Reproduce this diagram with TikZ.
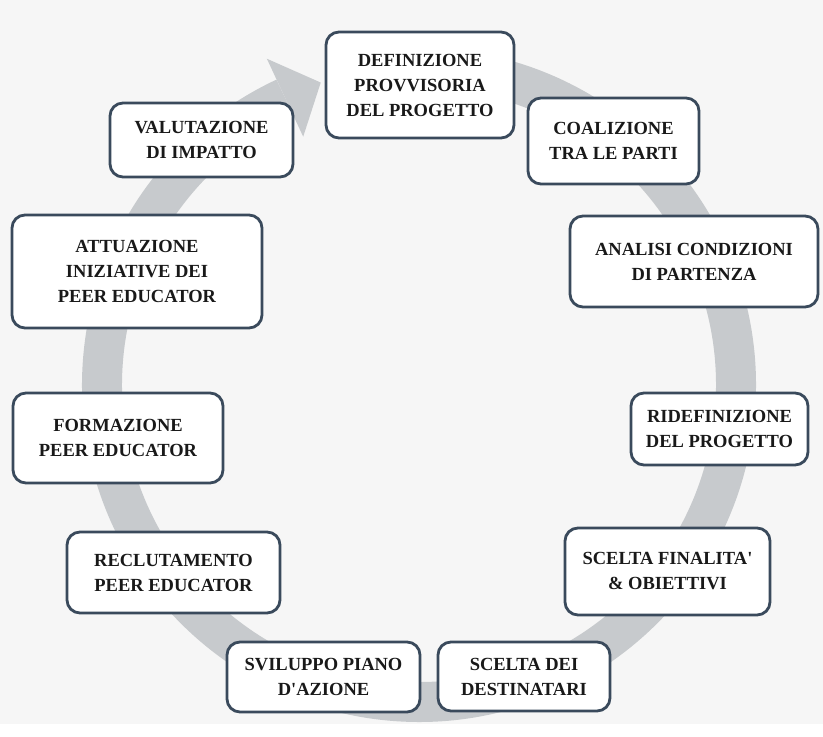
\documentclass[tikz,border=0pt]{standalone}
\usepackage{fontspec}
\setmainfont{Liberation Serif}
\definecolor{bggray}{HTML}{F6F6F6}
\definecolor{ringgray}{HTML}{C7CACD}
\definecolor{boxline}{HTML}{3A4A5C}
\begin{document}
\begin{tikzpicture}[x=1pt,y=1pt,
  stepbox/.style={draw=boxline,line width=2.8pt,rounded corners=13pt,fill=white,
    align=center,inner sep=0pt,text=black!90,
    font=\fontsize{18.5}{25}\selectfont\bfseries}]
\fill[bggray] (0,0) rectangle (823,724);
% the grey ring with its arrow head
\begin{scope}[shift={(419,339)}]
\draw[line width=40pt,ringgray] (85:317) arc[start angle=85,end angle=-245,radius=317];
\fill[ringgray] (115:274) -- (115:360) -- (108:318) -- cycle;
\end{scope}
% the steps, clockwise from the top
\node[stepbox,minimum width=188pt,minimum height=106pt] (def) at (420,639) {DEFINIZIONE\\PROVVISORIA\\DEL PROGETTO};
\node[stepbox,minimum width=171pt,minimum height=86pt] (coal) at (613.5,583) {COALIZIONE\\TRA LE PARTI};
\node[stepbox,minimum width=248pt,minimum height=91pt] (anal) at (694,462.5) {ANALISI CONDIZIONI\\DI PARTENZA};
\node[stepbox,minimum width=177pt,minimum height=72pt] (ridef) at (719.5,295) {RIDEFINIZIONE\\DEL PROGETTO};
\node[stepbox,minimum width=205pt,minimum height=87pt] (final) at (667.5,152.5) {SCELTA FINALITA\textquotesingle\\\& OBIETTIVI};
\node[stepbox,minimum width=172pt,minimum height=69pt] (dest) at (524,47.5) {SCELTA DEI\\DESTINATARI};
\node[stepbox,minimum width=193pt,minimum height=70pt] (svil) at (323.5,47) {SVILUPPO PIANO\\D\textquotesingle AZIONE};
\node[stepbox,minimum width=213pt,minimum height=81pt] (recl) at (173.5,151.5) {RECLUTAMENTO\\PEER EDUCATOR};
\node[stepbox,minimum width=210pt,minimum height=90pt] (form) at (118,286) {FORMAZIONE\\PEER EDUCATOR};
\node[stepbox,minimum width=250pt,minimum height=113pt] (attu) at (137,452.5) {ATTUAZIONE\\INIZIATIVE DEI\\PEER EDUCATOR};
\node[stepbox,minimum width=183pt,minimum height=74pt] (valu) at (201.5,584) {VALUTAZIONE\\DI IMPATTO};
\end{tikzpicture}
\end{document}
